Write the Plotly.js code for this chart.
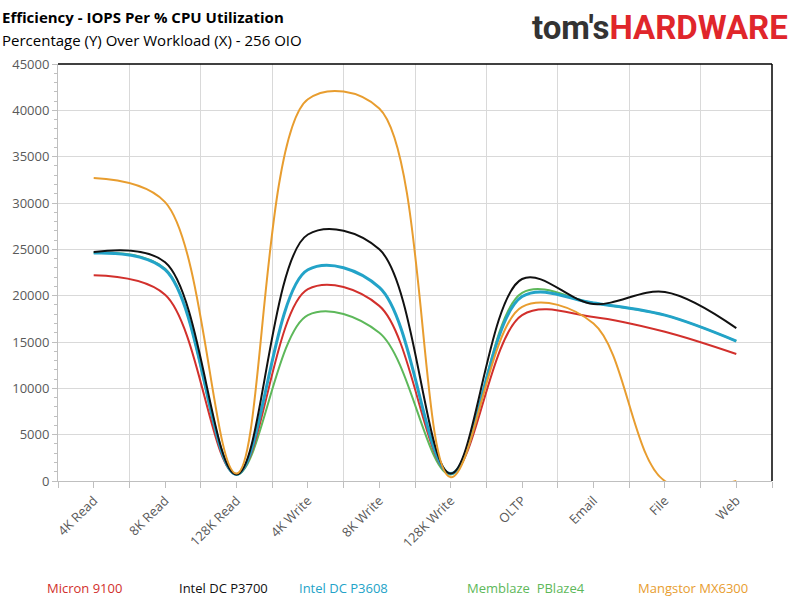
<!DOCTYPE html>
<html><head><meta charset="utf-8">
<script src="https://cdn.plot.ly/plotly-3.0.1.min.js"></script>
<style>body{margin:0;background:#fff}#c{width:800px;height:601px}</style>
</head><body><div id="c"></div>
<script>
const categories = ["4K Read","8K Read","128K Read","4K Write","8K Write","128K Write","OLTP","Email","File","Web"];
const micron9100   = [22200,20100,700,20700,18900,800,17900,17700,16100,13700];
const intelP3700   = [24700,23600,700,26600,25000,800,21800,19100,20400,16500];
const intelP3608   = [24600,22800,700,22800,20900,800,19900,19200,17900,15100];
const memblaze     = [24600,22900,700,17900,16000,700,20300,19200,17900,15100];
const mangstor     = [32700,30100,800,41200,40200,400,18800,17000,0,0];
const seriesNames  = ["Micron 9100","Intel DC P3700","Intel DC P3608","Memblaze  PBlaze4","Mangstor MX6300"];
const colors = ["#d2302c","#111111","#23a3c8","#5db85a","#e89d2f"];
const data = [micron9100,intelP3700,intelP3608,memblaze,mangstor];
const idx = categories.map((c,i)=>i);
const order=[3,0,2,1,4];
const traces = order.map(k=>({x:idx,y:data[k],type:'scatter',mode:'lines',name:seriesNames[k],
  line:{shape:'spline',smoothing:1,color:colors[k],width:k==2?3:2},hoverinfo:'skip'}));
const legX=[45,177,297,465,636];
const ann = seriesNames.map((n,k)=>({xref:'paper',yref:'paper',x:(legX[k]-58)/714,y:(601-588-120)/(601-64-120),
  xanchor:'left',yanchor:'middle',text:n,showarrow:false,font:{size:13,color:colors[k],family:'Open Sans'}}));
ann.push({xref:'paper',yref:'paper',x:-58/714,y:(601-17-120)/417,xanchor:'left',yanchor:'middle',showarrow:false,
  text:'<b>Efficiency - IOPS Per % CPU Utilization</b>',font:{size:15,color:'#000',family:'Open Sans'}});
ann.push({xref:'paper',yref:'paper',x:-58/714,y:(601-40-120)/417,xanchor:'left',yanchor:'middle',showarrow:false,
  text:'Percentage (Y) Over Workload (X) - 256 OIO',font:{size:15,color:'#000',family:'Open Sans'}});
ann.push({xref:'paper',yref:'paper',x:(790-58)/714,y:(601-27-120)/417,xanchor:'right',yanchor:'middle',showarrow:false,
  text:"<b><span style='color:#333'>tom's</span><span style='color:#e0262b'>HARDWARE</span></b>",font:{size:33,family:'Roboto'}});
const layout = {
  width:800,height:601,margin:{l:58,r:28,t:64,b:120},paper_bgcolor:'#fff',plot_bgcolor:'#fff',
  showlegend:false,annotations:ann,
  font:{family:'Open Sans',color:'#595959',size:13},
  xaxis:{range:[-0.5,9.5],tickmode:'array',tickvals:idx,ticktext:categories,tickangle:-45,showgrid:false,
    ticks:'outside',ticklen:6,tickcolor:'#bfbfbf',showline:true,linecolor:'#bfbfbf',zeroline:false,
    minor:{tickmode:'linear',tick0:0.5,dtick:1,showgrid:true,gridcolor:'#d9d9d9',ticks:'outside',ticklen:6,tickcolor:'#bfbfbf'}},
  yaxis:{range:[0,45000],dtick:5000,showgrid:true,gridcolor:'#d9d9d9',showline:true,linecolor:'#bfbfbf',
    ticks:'outside',ticklen:5,tickcolor:'#bfbfbf',zeroline:false,tickformat:'d',
    minor:{dtick:1000,ticks:'outside',ticklen:3,tickcolor:'#bfbfbf'}},
  shapes:[{type:'line',xref:'paper',yref:'paper',x0:0,x1:1,y0:1,y1:1,line:{color:'#000',width:1.5}},
          {type:'line',xref:'paper',yref:'paper',x0:1,x1:1,y0:0,y1:1,line:{color:'#000',width:1.5}}]
};
Plotly.newPlot('c',traces,layout,{displayModeBar:false,staticPlot:true});
</script></body></html>
